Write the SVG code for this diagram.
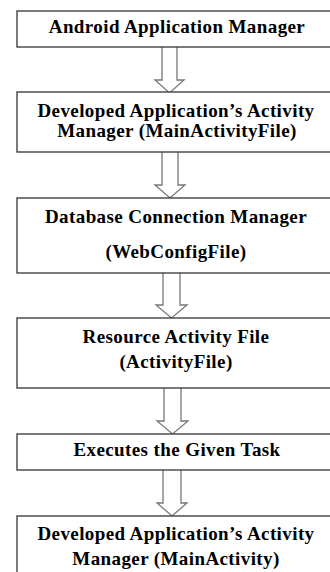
<svg xmlns="http://www.w3.org/2000/svg" width="330" height="572" viewBox="0 0 330 572">
<style>
.box{fill:#fff;stroke:#333;stroke-width:1.3}
.t{font-family:"Liberation Serif","Times New Roman",serif;font-weight:bold;font-size:19px;letter-spacing:0.4px;fill:#000;text-anchor:middle}
.arr{fill:#fff;stroke:#777;stroke-width:1.3;stroke-linejoin:miter}
</style>
<rect width="330" height="572" fill="#fff"/>
<g id="connectors">
<path class="arr" d="M162,47 V80 H155 L169.5,93 L184,80 H177 V47"/>
<path class="arr" d="M162,152 V185 H155 L170,198 L185,185 H178 V152"/>
<path class="arr" d="M163,273 V305 H156 L171.5,318 L187,305 H180 V273"/>
<path class="arr" d="M164,388 V421 H157 L172.5,434 L188,421 H181 V388"/>
<path class="arr" d="M163,470 V503 H157 L172,516 L187,503 H181 V470"/>
</g>
<g id="n1"><rect class="box" x="17" y="11" width="330" height="36"/><text class="t" x="177" y="33">Android Application Manager</text></g>
<g id="n2"><rect class="box" x="17" y="92" width="330" height="60"/><text class="t" x="176" y="117">Developed Application’s Activity</text><text class="t" x="177" y="137">Manager (MainActivityFile)</text></g>
<g id="n3"><rect class="box" x="17" y="198" width="330" height="75"/><text class="t" x="176" y="223">Database Connection Manager</text><text class="t" x="176" y="258">(WebConfigFile)</text></g>
<g id="n4"><rect class="box" x="17" y="318" width="330" height="70"/><text class="t" x="176" y="343">Resource Activity File</text><text class="t" x="176" y="368">(ActivityFile)</text></g>
<g id="n5"><rect class="box" x="17" y="434" width="330" height="36"/><text class="t" x="177" y="456">Executes the Given Task</text></g>
<g id="n6"><rect class="box" x="17" y="516" width="330" height="70"/><text class="t" x="176" y="540">Developed Application’s Activity</text><text class="t" x="176" y="565">Manager (MainActivity)</text></g>
</svg>
